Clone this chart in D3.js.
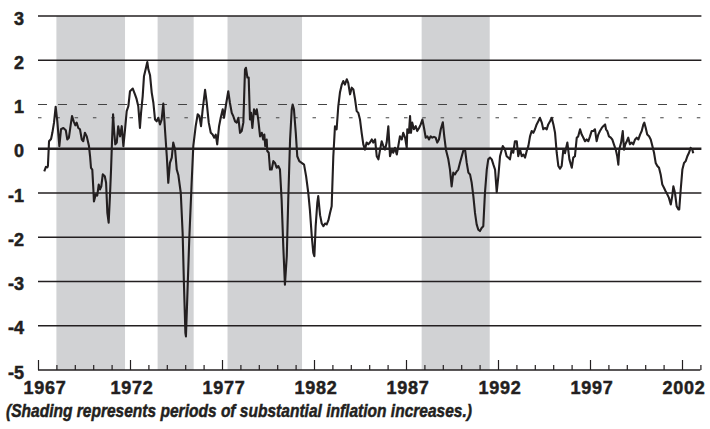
<!DOCTYPE html>
<html lang="en">
<head>
<meta charset="UTF-8">
<title>Spread chart</title>
<script src="https://d3js.org/d3.v7.min.js"></script>
<style>
  html, body { margin: 0; padding: 0; background: #fff; }
  svg text { font-family: "Liberation Sans", Arial, sans-serif; fill: #231f20; }
</style>
</head>
<body>
<svg id="chart" width="710" height="429"></svg>
<script>
// shaded periods (decimal years)
const shadeStart = [1968.0, 1973.5, 1977.3, 1987.85];
const shadeEnd   = [1971.73, 1975.46, 1981.35, 1991.55];

// y gridlines and reference levels
const yTicks = [3, 2, 1, 0, -1, -2, -3, -4, -5];
const solidLevels = [3, 2, -1, -2, -3, -4];
const dashedLevel = 1;
const dottedLevel = 0.7;
const yearLabels = [1967, 1972, 1977, 1982, 1987, 1992, 1997, 2002];

// series
const dates = [
  1967.34,1967.43,1967.51,1967.54,1967.60,1967.71,1967.78,1967.87,1967.96,1968.05,
  1968.16,1968.25,1968.38,1968.51,1968.59,1968.68,1968.78,1968.85,1968.94,1969.03,
  1969.10,1969.19,1969.28,1969.38,1969.46,1969.55,1969.65,1969.77,1969.83,1969.88,
  1969.95,1970.01,1970.04,1970.14,1970.22,1970.30,1970.37,1970.44,1970.52,1970.63,
  1970.70,1970.77,1970.84,1970.91,1970.97,1971.02,1971.08,1971.13,1971.20,1971.28,
  1971.36,1971.46,1971.55,1971.64,1971.73,1971.82,1971.91,1972.00,1972.15,1972.27,
  1972.36,1972.45,1972.54,1972.60,1972.69,1972.76,1972.87,1972.94,1973.00,1973.09,
  1973.18,1973.27,1973.36,1973.45,1973.54,1973.63,1973.72,1973.81,1973.90,1974.00,
  1974.08,1974.17,1974.27,1974.35,1974.45,1974.54,1974.63,1974.76,1974.86,1974.93,
  1975.01,1975.04,1975.11,1975.22,1975.35,1975.44,1975.57,1975.68,1975.77,1975.86,
  1975.95,1976.08,1976.17,1976.28,1976.39,1976.49,1976.58,1976.66,1976.74,1976.84,
  1976.93,1977.04,1977.11,1977.22,1977.34,1977.43,1977.53,1977.61,1977.71,1977.80,
  1977.89,1977.98,1978.07,1978.16,1978.25,1978.30,1978.38,1978.45,1978.52,1978.58,
  1978.65,1978.74,1978.83,1978.89,1978.97,1979.07,1979.16,1979.24,1979.30,1979.35,
  1979.43,1979.46,1979.54,1979.61,1979.70,1979.79,1979.88,1979.97,1980.06,1980.15,
  1980.24,1980.33,1980.42,1980.52,1980.60,1980.70,1980.79,1980.84,1980.91,1981.01,
  1981.09,1981.20,1981.33,1981.46,1981.57,1981.69,1981.78,1981.88,1981.96,1982.02,
  1982.09,1982.18,1982.23,1982.33,1982.42,1982.51,1982.60,1982.69,1982.78,1982.87,
  1982.96,1983.05,1983.14,1983.23,1983.32,1983.41,1983.51,1983.59,1983.68,1983.78,
  1983.86,1983.96,1984.05,1984.14,1984.23,1984.32,1984.41,1984.50,1984.59,1984.68,
  1984.77,1984.86,1984.95,1985.04,1985.14,1985.22,1985.32,1985.41,1985.50,1985.59,
  1985.68,1985.77,1985.86,1985.95,1986.04,1986.13,1986.22,1986.31,1986.40,1986.50,
  1986.58,1986.67,1986.77,1986.85,1986.95,1987.04,1987.07,1987.16,1987.22,1987.27,
  1987.34,1987.43,1987.53,1987.61,1987.71,1987.80,1987.89,1987.98,1988.07,1988.16,
  1988.25,1988.34,1988.43,1988.52,1988.61,1988.70,1988.79,1988.89,1989.00,1989.08,
  1989.17,1989.30,1989.39,1989.48,1989.57,1989.66,1989.76,1989.84,1989.93,1990.03,
  1990.11,1990.21,1990.30,1990.39,1990.48,1990.57,1990.66,1990.75,1990.84,1990.93,
  1991.02,1991.11,1991.20,1991.29,1991.39,1991.47,1991.57,1991.66,1991.75,1991.84,
  1991.93,1992.02,1992.11,1992.26,1992.38,1992.47,1992.56,1992.65,1992.74,1992.83,
  1992.92,1993.02,1993.10,1993.20,1993.29,1993.38,1993.47,1993.56,1993.65,1993.74,
  1993.83,1993.92,1994.01,1994.10,1994.19,1994.28,1994.38,1994.46,1994.55,1994.65,
  1994.73,1994.83,1994.92,1995.01,1995.10,1995.19,1995.28,1995.37,1995.46,1995.55,
  1995.64,1995.77,1995.88,1996.01,1996.09,1996.18,1996.28,1996.36,1996.46,1996.55,
  1996.64,1996.73,1996.82,1996.91,1997.00,1997.09,1997.18,1997.27,1997.36,1997.45,
  1997.54,1997.64,1997.72,1997.82,1997.87,1997.94,1998.03,1998.13,1998.21,1998.30,
  1998.40,1998.48,1998.54,1998.59,1998.69,1998.78,1998.85,1998.92,1999.00,1999.08,
  1999.17,1999.27,1999.35,1999.45,1999.54,1999.63,1999.72,1999.81,1999.90,1999.95,
  2000.03,2000.11,2000.21,2000.30,2000.39,2000.48,2000.57,2000.66,2000.75,2000.84,
  2000.93,2001.02,2001.11,2001.20,2001.29,2001.39,2001.47,2001.53,2001.62,2001.71,
  2001.80,2001.85,2001.93,2002.02,2002.11,2002.20,2002.29,2002.38,2002.47,2002.56,
  2002.61
];
const spread = [
  -0.51,-0.41,-0.42,-0.38,0.17,0.22,0.36,0.59,0.95,0.62,
  0.06,0.44,0.47,0.42,0.21,0.25,0.55,0.74,0.62,0.53,
  0.59,0.47,0.44,0.21,0.17,0.36,0.28,0.06,-0.17,-0.43,
  -0.47,-0.92,-1.19,-1.03,-1.06,-0.81,-0.92,-0.85,-0.58,-0.62,
  -0.77,-1.45,-1.67,-1.07,-0.47,0.14,0.78,0.44,0.10,0.14,
  0.51,0.28,0.51,0.06,0.44,0.85,0.96,1.30,1.36,1.23,
  1.12,0.96,0.47,0.81,1.19,1.64,1.83,1.96,1.79,1.66,
  1.27,1.04,0.66,0.62,0.70,0.55,0.66,1.02,0.44,-0.17,
  -0.77,-0.32,-0.20,0.14,-0.02,-0.47,-0.60,-1.00,-1.90,-3.03,
  -4.16,-4.24,-3.41,-2.05,-0.77,0.06,0.51,0.78,0.74,0.51,
  0.89,1.33,1.04,0.59,0.36,0.32,0.25,0.32,0.10,0.51,
  0.70,0.89,0.70,1.00,1.30,1.04,0.81,0.74,0.62,0.59,
  0.70,0.36,0.40,0.59,1.79,1.83,1.61,1.61,0.66,0.81,
  0.47,0.89,0.78,0.89,0.66,0.28,0.36,0.21,0.32,0.06,
  0.21,-0.05,-0.09,-0.47,-0.47,-0.28,-0.32,-0.43,-0.39,-0.47,
  -1.15,-2.20,-3.07,-2.43,-1.15,0.21,0.89,1.00,0.89,0.36,
  -0.17,-0.28,-0.32,-0.36,-0.62,-1.00,-1.40,-1.98,-2.35,-2.43,
  -1.75,-1.22,-1.07,-1.50,-1.69,-1.75,-1.69,-1.71,-1.62,-1.45,
  -1.30,-0.17,0.51,0.44,0.96,1.27,1.45,1.53,1.45,1.57,
  1.49,1.23,1.38,1.34,1.12,0.85,0.81,0.66,0.36,0.10,
  -0.02,0.14,0.10,0.14,0.21,0.14,0.21,-0.17,-0.24,-0.02,
  0.17,0.06,-0.02,0.14,0.51,-0.17,-0.02,-0.09,0.02,-0.13,
  0.06,0.28,0.21,0.36,0.25,0.02,0.44,0.36,0.74,0.36,
  0.59,0.44,0.51,0.40,0.47,0.55,0.66,0.47,0.25,0.28,
  0.21,0.28,0.25,0.27,0.25,0.14,0.21,0.44,0.60,0.28,
  -0.02,-0.24,-0.47,-0.85,-0.54,-0.58,-0.51,-0.47,-0.32,-0.17,
  -0.05,-0.02,-0.32,-0.54,-0.58,-0.77,-1.07,-1.45,-1.71,-1.83,
  -1.86,-1.79,-1.75,-1.00,-0.47,-0.24,-0.20,-0.24,-0.36,-0.47,
  -0.98,-0.62,-0.17,0.06,-0.02,-0.17,-0.20,-0.24,-0.02,-0.09,
  0.17,0.17,-0.17,-0.02,-0.17,-0.13,-0.20,-0.05,0.06,0.28,
  0.40,0.36,0.44,0.55,0.62,0.70,0.59,0.44,0.47,0.44,
  0.55,0.62,0.70,0.55,0.36,-0.09,-0.39,-0.45,-0.39,-0.02,
  -0.10,0.14,-0.24,-0.43,-0.20,-0.17,0.25,0.28,0.44,0.32,
  0.25,0.17,0.21,0.17,0.28,0.40,0.40,0.44,0.17,0.32,
  0.40,0.47,0.51,0.55,0.44,0.40,0.28,0.25,0.21,0.10,
  -0.02,-0.17,-0.36,-0.02,0.14,0.40,-0.02,0.10,0.17,0.25,
  0.10,0.14,0.10,0.21,0.25,0.21,0.32,0.40,0.55,0.59,
  0.47,0.32,0.28,0.21,0.06,-0.09,-0.32,-0.39,-0.43,-0.58,
  -0.81,-0.88,-0.96,-1.03,-1.11,-1.26,-1.07,-0.85,-1.00,-1.30,
  -1.37,-1.37,-0.92,-0.47,-0.32,-0.28,-0.17,-0.09,0.02,-0.02,
  -0.10
];

const ink = '#231f20';
const svg = d3.select('#chart');
const margin = {top: 16, left: 38};
const width = 662.4, height = 354;

const x = d3.scaleLinear().domain([1967, 2003]).range([margin.left, margin.left + width]);
const y = d3.scaleLinear().domain([-5, 3]).range([margin.top + height, margin.top]);

// shading
svg.append('g').selectAll('rect')
  .data(shadeStart)
  .join('rect')
  .attr('x', (d) => x(d))
  .attr('width', (d, i) => x(shadeEnd[i]) - x(d))
  .attr('y', y(3))
  .attr('height', y(-5) - y(3))
  .attr('fill', '#d1d2d4');

// solid gridlines
svg.append('g').selectAll('line')
  .data(solidLevels)
  .join('line')
  .attr('x1', x(1967)).attr('x2', x(2003) + 1)
  .attr('y1', (d) => y(d)).attr('y2', (d) => y(d))
  .attr('stroke', ink).attr('stroke-width', 1.3);

// reference lines
svg.append('line')
  .attr('x1', x(1967)).attr('x2', x(2003) + 1)
  .attr('y1', y(dashedLevel)).attr('y2', y(dashedLevel))
  .attr('stroke', '#444').attr('stroke-width', 1)
  .attr('stroke-dasharray', '9,11');
svg.append('line')
  .attr('x1', x(1967)).attr('x2', x(2003) + 1)
  .attr('y1', y(dottedLevel)).attr('y2', y(dottedLevel))
  .attr('stroke', '#444').attr('stroke-width', 1)
  .attr('stroke-dasharray', '3.5,14.8');

// zero line
svg.append('line')
  .attr('x1', x(1967)).attr('x2', x(2003) + 1)
  .attr('y1', y(0)).attr('y2', y(0))
  .attr('stroke', ink).attr('stroke-width', 2.6);

// bottom axis, ticks pointing up
const axisG = svg.append('g')
  .attr('transform', `translate(0,${y(-5)})`)
  .call(d3.axisBottom(x)
    .tickValues(d3.range(1967, 2004))
    .tickSize(-5)
    .tickFormat(''));
axisG.select('.domain').attr('stroke', ink).attr('stroke-width', 1.3).attr('d', `M${x(1967)},0H${x(2003)}`);
axisG.selectAll('.tick line')
  .attr('stroke', ink).attr('stroke-width', 1.2)
  .attr('y2', (d) => yearLabels.includes(d) ? -10 : -5);

// year labels
svg.append('g').selectAll('text')
  .data(yearLabels)
  .join('text')
  .attr('x', (d, i) => x(d) + (i === 0 ? 7 : 2))
  .attr('y', 394)
  .attr('text-anchor', 'middle')
  .attr('font-size', 18)
  .attr('font-weight', 'bold')
  .attr('letter-spacing', 0.8)
  .attr('stroke', ink).attr('stroke-width', 0.5)
  .text((d) => d);

// y labels
svg.append('g').selectAll('text')
  .data(yTicks)
  .join('text')
  .attr('x', 24)
  .attr('y', (d) => y(d) + 8.5)
  .attr('text-anchor', 'end')
  .attr('font-size', 18)
  .attr('font-weight', 'bold')
  .attr('stroke', ink).attr('stroke-width', 0.5)
  .text((d) => d);

// the series
const line = d3.line()
  .x((d, i) => x(dates[i]))
  .y((d) => y(d));
svg.append('path')
  .datum(spread)
  .attr('fill', 'none')
  .attr('stroke', ink)
  .attr('stroke-width', 2.1)
  .attr('stroke-linejoin', 'round')
  .attr('d', line);

// caption
svg.append('text')
  .attr('x', 6)
  .attr('y', 417)
  .attr('font-size', 19)
  .attr('font-weight', 'bold')
  .attr('font-style', 'italic')
  .attr('stroke', ink).attr('stroke-width', 0.5)
  .attr('textLength', 466)
  .attr('lengthAdjust', 'spacingAndGlyphs')
  .text('(Shading represents periods of substantial inflation increases.)');
</script>
</body>
</html>
